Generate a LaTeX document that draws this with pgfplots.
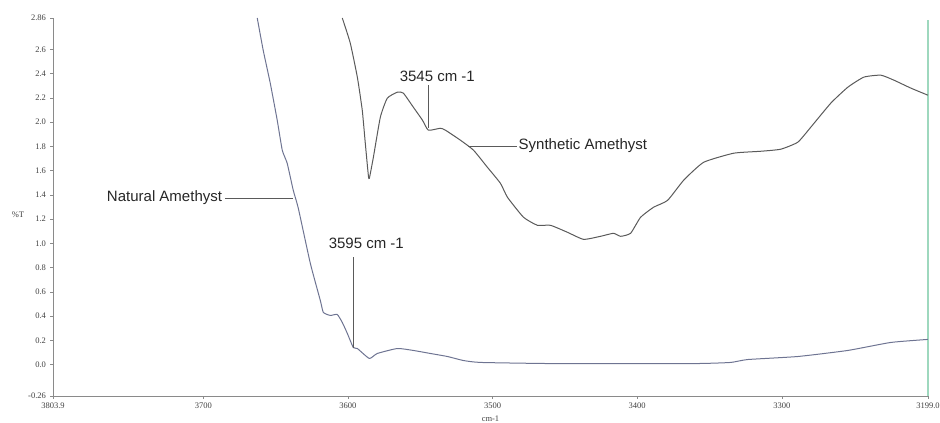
\documentclass[border=0pt]{standalone}
\usepackage{fontspec}
\setmainfont{Liberation Serif}
\newfontfamily\arial{Liberation Sans}
\usepackage{pgfplots}
\pgfplotsset{compat=1.18}
\definecolor{natcol}{HTML}{6E7492}
\definecolor{syncol}{HTML}{5A5A5A}
\definecolor{axcol}{HTML}{8A8A8A}
\definecolor{cursor}{HTML}{9ED8BE}

\begin{document}
\begin{tikzpicture}
\path[use as bounding box] (0,0) rectangle (940pt,423pt);
\begin{axis}[
    at={(53pt,27pt)}, anchor=south west,
    scale only axis, width=875pt, height=378pt,
    x dir=reverse,
    xmin=3199.0, xmax=3803.9,
    ymin=-0.26, ymax=2.86,
    axis x line*=bottom, axis y line*=left,
    axis line style={axcol, line width=0.9pt},
    xtick={3199.0,3300,3400,3500,3600,3700,3803.9},
    xticklabels={3199.0,3300,3400,3500,3600,3700,3803.9},
    ytick={-0.26,0,0.2,0.4,0.6,0.8,1.0,1.2,1.4,1.6,1.8,2.0,2.2,2.4,2.6,2.86},
    yticklabels={-0.26,0.0,0.2,0.4,0.6,0.8,1.0,1.2,1.4,1.6,1.8,2.0,2.2,2.4,2.6,2.86},
    tick align=outside, major tick length=2.5pt,
    tick style={axcol, line width=0.6pt},
    ticklabel style={font=\fontsize{8.5}{9}\selectfont, text=black!75},
    yticklabel style={xshift=-1pt},
    xticklabel style={yshift=-1pt},
    xlabel={cm-1}, ylabel={\%T},
    label style={font=\fontsize{8.5}{9}\selectfont, text=black!75},
    xlabel style={at={(axis description cs:0.5,0)}, anchor=center, yshift=-23pt},
    ylabel style={rotate=-90, at={(axis description cs:-0.04,0.479)}, anchor=center},
    clip=false,
]
% cursor line at right edge
\addplot[cursor, line width=1.4pt] coordinates {(3199.0,-0.26) (3199.0,2.84)};

% Natural Amethyst
\addplot[natcol, line width=1pt, smooth, tension=0.3] coordinates {
(3662.7,2.86) (3658.6,2.595) (3653.7,2.322) (3648.9,2.017) (3645.4,1.769)
(3642.0,1.661) (3637.8,1.438) (3634.3,1.289) (3626.0,0.835) (3619.1,0.529)
(3617.0,0.430) (3612.2,0.405) (3607.4,0.413) (3603.9,0.347) (3600.4,0.256)
(3596.3,0.140) (3593.5,0.132) (3585.2,0.050) (3579.7,0.091) (3565.8,0.132)
(3554.8,0.116) (3543.0,0.091) (3531.2,0.066) (3520.2,0.033) (3508.4,0.017)
(3462.0,0.008) (3416.4,0.008) (3358.2,0.008) (3335.4,0.017) (3323.6,0.041)
(3289.0,0.066) (3254.4,0.116) (3224.7,0.182) (3199.1,0.207)
};

% Synthetic Amethyst
\addplot[syncol, line width=1pt, smooth, tension=0.3] coordinates {
(3603.9,2.86) (3598.4,2.653) (3593.5,2.372) (3590.1,2.099) (3588.0,1.826)
(3585.9,1.562) (3585.2,1.537) (3582.4,1.711) (3577.6,2.041) (3572.8,2.198)
(3565.8,2.248) (3561.7,2.240) (3554.8,2.124) (3548.5,2.017) (3544.4,1.934)
(3536.1,1.950) (3532.6,1.934) (3522.2,1.851) (3513.2,1.769) (3503.6,1.628)
(3494.6,1.496) (3489.7,1.380) (3478.6,1.215) (3469.0,1.149) (3460.0,1.149)
(3448.2,1.091) (3437.1,1.033) (3425.4,1.058) (3416.4,1.083) (3411.5,1.058)
(3404.6,1.083) (3397.7,1.215) (3388.7,1.298) (3379.0,1.355) (3367.9,1.521)
(3354.1,1.669) (3333.3,1.744) (3314.6,1.760) (3300.8,1.777) (3289.0,1.835)
(3280.0,1.959) (3266.2,2.157) (3254.4,2.289) (3243.3,2.372) (3231.6,2.388)
(3222.6,2.347) (3210.8,2.281) (3199.1,2.223)
};

% annotations
\draw[syncol, line width=0.8pt] (axis cs:3544.4,2.306) -- (axis cs:3544.4,1.950);
\node[font=\arial\fontsize{15}{16}\selectfont, text=black!85, anchor=center]
  at (axis cs:3538.2,2.380) {3545 cm -1};
\draw[syncol, line width=0.8pt] (axis cs:3516.7,1.802) -- (axis cs:3482.8,1.802);
\node[font=\arial\fontsize{15}{16}\selectfont, text=black!85, anchor=west, inner sep=0pt]
  at (axis cs:3482.1,1.810) {Synthetic Amethyst};
\draw[syncol, line width=0.8pt] (axis cs:3684.9,1.372) -- (axis cs:3637.8,1.372);
\node[font=\arial\fontsize{15}{16}\selectfont, text=black!85, anchor=east, inner sep=0pt]
  at (axis cs:3686.9,1.380) {Natural Amethyst};
\draw[syncol, line width=0.8pt] (axis cs:3596.3,0.884) -- (axis cs:3596.3,0.140);
\node[font=\arial\fontsize{15}{16}\selectfont, text=black!85, anchor=center]
  at (axis cs:3587.3,1.0) {3595 cm -1};
\end{axis}
\end{tikzpicture}
\end{document}
